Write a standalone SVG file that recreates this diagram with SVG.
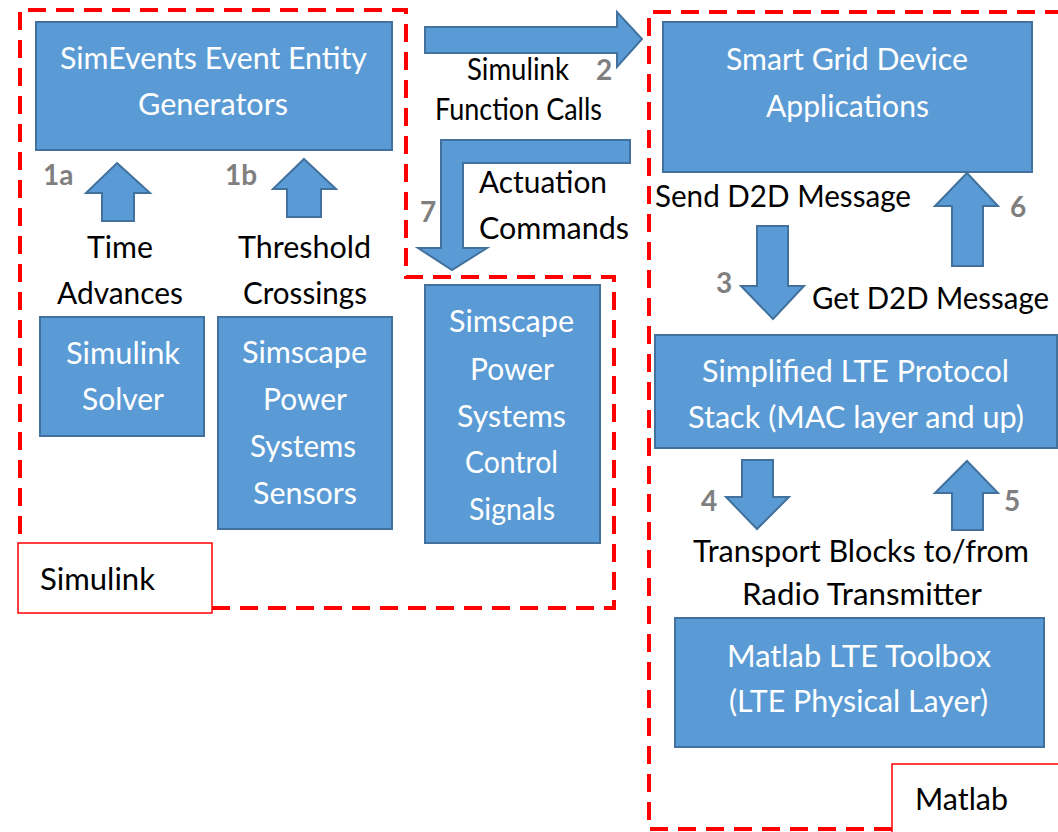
<svg xmlns="http://www.w3.org/2000/svg" width="1058" height="832" viewBox="0 0 1058 832">
<style>
.box{fill:#5b9bd5;stroke:#41719c;stroke-width:2}
.arr{fill:#5b9bd5;stroke:#41719c;stroke-width:2;stroke-linejoin:miter}
.reg{fill:none;stroke:#ff0000;stroke-width:4;stroke-dasharray:18 10}
.lab{fill:#fff;stroke:#ff0000;stroke-width:1.5}
text{font-family:Lato,"Open Sans","Liberation Sans",sans-serif;font-size:31px}
.w{fill:#ffffff}
.k{fill:#000000}
.n{fill:#7f7f7f;font-weight:bold;font-size:28px}
</style>
<rect width="1058" height="832" fill="#ffffff"/>
<g id="regions">
<path class="reg" d="M212,608 L614,608 L614,277 L406,277 L406,10 L20,10 L20,545"/>
<path class="reg" d="M892,829 L649,829 L649,12 L1060,12"/>
<rect class="lab" x="18" y="543" width="194" height="70"/>
<rect class="lab" x="892" y="764" width="180" height="80"/>
<text class="k" x="40" y="590" textLength="115" lengthAdjust="spacingAndGlyphs">Simulink</text>
<text class="k" x="915" y="810" textLength="93" lengthAdjust="spacingAndGlyphs">Matlab</text>
</g>
<g id="simevents">
<rect class="box" x="36" y="22" width="356" height="128"/>
<text class="w" x="60" y="69" textLength="307" lengthAdjust="spacingAndGlyphs">SimEvents Event Entity</text>
<text class="w" x="138" y="115" textLength="150" lengthAdjust="spacingAndGlyphs">Generators</text>
</g>
<g id="solver">
<rect class="box" x="40" y="317" width="164" height="119"/>
<text class="w" x="66" y="364" textLength="114" lengthAdjust="spacingAndGlyphs">Simulink</text>
<text class="w" x="82" y="410" textLength="82" lengthAdjust="spacingAndGlyphs">Solver</text>
</g>
<g id="sensors">
<rect class="box" x="218" y="317" width="174" height="212"/>
<text class="w" x="242" y="363" textLength="125" lengthAdjust="spacingAndGlyphs">Simscape</text>
<text class="w" x="263" y="410" textLength="84" lengthAdjust="spacingAndGlyphs">Power</text>
<text class="w" x="250" y="457" textLength="106" lengthAdjust="spacingAndGlyphs">Systems</text>
<text class="w" x="253" y="504" textLength="104" lengthAdjust="spacingAndGlyphs">Sensors</text>
</g>
<g id="control">
<rect class="box" x="425" y="285" width="175" height="258"/>
<text class="w" x="449" y="332" textLength="125" lengthAdjust="spacingAndGlyphs">Simscape</text>
<text class="w" x="470" y="380" textLength="84" lengthAdjust="spacingAndGlyphs">Power</text>
<text class="w" x="457" y="427" textLength="109" lengthAdjust="spacingAndGlyphs">Systems</text>
<text class="w" x="465" y="473" textLength="93" lengthAdjust="spacingAndGlyphs">Control</text>
<text class="w" x="469" y="520" textLength="86" lengthAdjust="spacingAndGlyphs">Signals</text>
</g>
<g id="smartgrid">
<rect class="box" x="663" y="22" width="369" height="150"/>
<text class="w" x="726" y="70" textLength="242" lengthAdjust="spacingAndGlyphs">Smart Grid Device</text>
<text class="w" x="766" y="117" textLength="163" lengthAdjust="spacingAndGlyphs">Applications</text>
</g>
<g id="ltestack">
<rect class="box" x="655" y="335" width="402" height="113"/>
<text class="w" x="702" y="382" textLength="307" lengthAdjust="spacingAndGlyphs">Simplified LTE Protocol</text>
<text class="w" x="688" y="428" textLength="336" lengthAdjust="spacingAndGlyphs">Stack (MAC layer and up)</text>
</g>
<g id="ltetoolbox">
<rect class="box" x="675" y="618" width="369" height="129"/>
<text class="w" x="727" y="667" textLength="264" lengthAdjust="spacingAndGlyphs">Matlab LTE Toolbox</text>
<text class="w" x="729" y="712" textLength="259" lengthAdjust="spacingAndGlyphs">(LTE Physical Layer)</text>
</g>
<g id="connectors">
<path class="arr" d="M117,163 L150,193 L134,193 L134,221 L102,221 L102,193 L86,193 Z"/>
<path class="arr" d="M304,159 L336,189 L321,189 L321,217 L287,217 L287,189 L273,189 Z"/>
<path class="arr" d="M425,27 L617,27 L617,12 L642,39 L617,67 L617,53 L425,53 Z"/>
<path class="arr" d="M630,140 L441,140 L441,248 L418,248 L452,270 L487,248 L463,248 L463,163 L630,163 Z"/>
<path class="arr" d="M757,226 L788,226 L788,286 L804,286 L773,319 L741,286 L757,286 Z"/>
<path class="arr" d="M967,173 L998,206 L983,206 L983,266 L952,266 L952,206 L935,206 Z"/>
<path class="arr" d="M742,460 L773,460 L773,497 L789,497 L757,529 L726,497 L742,497 Z"/>
<path class="arr" d="M967,461 L998,493 L983,493 L983,530 L952,530 L952,493 L935,493 Z"/>
<text class="n" x="43" y="185">1a</text>
<text class="n" x="225" y="185">1b</text>
<text class="k" x="87" y="258" textLength="66" lengthAdjust="spacingAndGlyphs">Time</text>
<text class="k" x="57" y="304" textLength="126" lengthAdjust="spacingAndGlyphs">Advances</text>
<text class="k" x="238" y="258" textLength="133" lengthAdjust="spacingAndGlyphs">Threshold</text>
<text class="k" x="243" y="304" textLength="124" lengthAdjust="spacingAndGlyphs">Crossings</text>
<text class="k" x="467" y="80" textLength="102" lengthAdjust="spacingAndGlyphs">Simulink</text>
<text class="n" x="596" y="80">2</text>
<text class="k" x="435" y="120" textLength="167" lengthAdjust="spacingAndGlyphs">Function Calls</text>
<text class="k" x="479" y="193" textLength="128" lengthAdjust="spacingAndGlyphs">Actuation</text>
<text class="k" x="479" y="239" textLength="150" lengthAdjust="spacingAndGlyphs">Commands</text>
<text class="n" x="420" y="222">7</text>
<text class="k" x="655" y="207" textLength="256" lengthAdjust="spacingAndGlyphs">Send D2D Message</text>
<text class="n" x="1010" y="217">6</text>
<text class="n" x="716" y="293">3</text>
<text class="k" x="812" y="309" textLength="237" lengthAdjust="spacingAndGlyphs">Get D2D Message</text>
<text class="n" x="701" y="511">4</text>
<text class="n" x="1004" y="511">5</text>
<text class="k" x="693" y="562" textLength="336" lengthAdjust="spacingAndGlyphs">Transport Blocks to/from</text>
<text class="k" x="742" y="605" textLength="240" lengthAdjust="spacingAndGlyphs">Radio Transmitter</text>
</g>
</svg>
